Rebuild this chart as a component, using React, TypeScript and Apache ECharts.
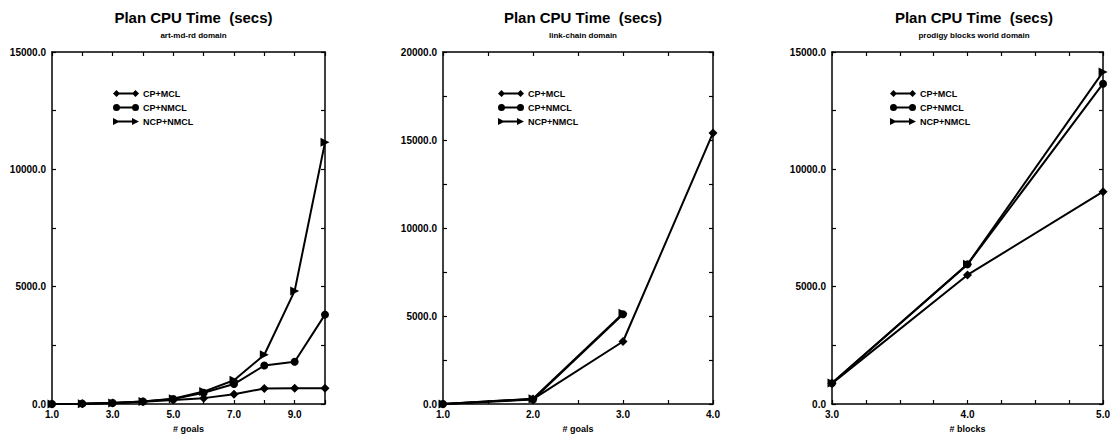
import React, { useEffect, useRef } from "react";
import * as echarts from "echarts";

const SERIES_NAMES = ["CP+MCL", "CP+NMCL", "NCP+NMCL"];
const TITLE = "Plan CPU Time  (secs)";
const SUBTITLES = ["art-md-rd domain", "link-chain domain", "prodigy blocks world domain"];
const X_NAMES = ["# goals", "# goals", "# blocks"];

// Panel 1: art-md-rd domain
const X1 = [1, 2, 3, 4, 5, 6, 7, 8, 9, 10];
const P1_CP_MCL = [0, 15, 40, 100, 170, 250, 420, 660, 670, 670];
const P1_CP_NMCL = [0, 15, 40, 110, 210, 480, 850, 1640, 1800, 3810];
const P1_NCP_NMCL = [0, 15, 40, 110, 220, 530, 1010, 2100, 4820, 11150];

// Panel 2: link-chain domain
const X2 = [1, 2, 3, 4];
const P2_CP_MCL = [0, 280, 3550, 15400];
const P2_CP_NMCL = [0, 250, 5100, null];
const P2_NCP_NMCL = [0, 300, 5150, null];

// Panel 3: prodigy blocks world domain
const X3 = [3, 4, 5];
const P3_CP_MCL = [880, 5500, 9050];
const P3_CP_NMCL = [880, 5950, 13650];
const P3_NCP_NMCL = [900, 5950, 14150];

const PANELS = [
  { xs: X1, ys: [P1_CP_MCL, P1_CP_NMCL, P1_NCP_NMCL], xmin: 1, xmax: 10, xint: 1, xlab: (v: number) => (Math.round(v) % 2 === 1 ? v.toFixed(1) : ""), ymax: 15000 },
  { xs: X2, ys: [P2_CP_MCL, P2_CP_NMCL, P2_NCP_NMCL], xmin: 1, xmax: 4, xint: 0.5, xlab: (v: number) => (Math.abs(v - Math.round(v)) < 1e-6 ? v.toFixed(1) : ""), ymax: 20000 },
  { xs: X3, ys: [P3_CP_MCL, P3_CP_NMCL, P3_NCP_NMCL], xmin: 3, xmax: 5, xint: 0.25, xlab: (v: number) => (Math.abs(v - Math.round(v)) < 1e-6 ? v.toFixed(1) : ""), ymax: 15000 },
];

const GRIDS = [
  { left: 52, top: 52, width: 273, height: 357 },
  { left: 443, top: 52, width: 270, height: 357 },
  { left: 832, top: 52, width: 274, height: 357 },
];
const LEGEND_LEFT = [108, 493, 885];

const SYMBOLS = ["diamond", "circle", "triangle"];
const SYMBOL_SIZES = [9, 8, 9];
const SYMBOL_ROT = [0, 0, -90];

const ICON_DIAMOND =
  "path://M0 3.5L3.5 0L7 3.5L3.5 7Z M3.5 2.6L22.5 2.6L22.5 4.4L3.5 4.4Z M19 3.5L22.5 0L26 3.5L22.5 7Z";
const ICON_CIRCLE =
  "path://M0 3.5A3.5 3.5 0 1 1 7 3.5A3.5 3.5 0 1 1 0 3.5Z M3.5 2.6L22.5 2.6L22.5 4.4L3.5 4.4Z M19 3.5A3.5 3.5 0 1 1 26 3.5A3.5 3.5 0 1 1 19 3.5Z";
const ICON_TRI =
  "path://M0 0L7 3.5L0 7Z M3.5 2.6L22.5 2.6L22.5 4.4L3.5 4.4Z M19 0L26 3.5L19 7Z";
const ICONS = [ICON_DIAMOND, ICON_CIRCLE, ICON_TRI];

const FONT = "Liberation Sans";

export default function App() {
  const ref = useRef<HTMLDivElement>(null);
  useEffect(() => {
    if (!ref.current) return;
    const chart = echarts.init(ref.current, null, { renderer: "svg" });
    const xAxes: any[] = [];
    const yAxes: any[] = [];
    const series: any[] = [];
    PANELS.forEach((p, gi) => {
      const tick = { show: true, inside: true, length: 4, lineStyle: { color: "#000", width: 1.2 } };
      const line = { show: true, onZero: false, lineStyle: { color: "#000", width: 1.5 } };
      xAxes.push({
        type: "value", gridIndex: gi, position: "bottom", min: p.xmin, max: p.xmax, interval: p.xint,
        axisLine: line, axisTick: tick, splitLine: { show: false },
        axisLabel: { formatter: p.xlab, color: "#000", fontSize: 10, fontWeight: "bold", margin: 5, fontFamily: FONT },
        name: X_NAMES[gi], nameLocation: "middle", nameGap: 20,
        nameTextStyle: { color: "#000", fontSize: 9, fontWeight: "bold", fontFamily: FONT },
      });
      xAxes.push({
        type: "value", gridIndex: gi, position: "top", min: p.xmin, max: p.xmax, interval: p.xint,
        axisLine: line, axisTick: tick, splitLine: { show: false }, axisLabel: { show: false },
      });
      yAxes.push({
        type: "value", gridIndex: gi, position: "left", min: 0, max: p.ymax, interval: 2500,
        axisLine: line, axisTick: tick, splitLine: { show: false },
        axisLabel: {
          formatter: (v: number) => (v % 5000 === 0 ? v.toFixed(1) : ""),
          color: "#000", fontSize: 10, fontWeight: "bold", margin: 6, fontFamily: FONT,
        },
      });
      yAxes.push({
        type: "value", gridIndex: gi, position: "right", min: 0, max: p.ymax, interval: 2500,
        axisLine: line, axisTick: tick, splitLine: { show: false }, axisLabel: { show: false },
      });
      p.ys.forEach((ys, si) => {
        series.push({
          type: "line",
          name: SERIES_NAMES[si],
          xAxisIndex: gi * 2,
          yAxisIndex: gi * 2,
          data: p.xs.map((x, i) => [x, ys[i]]).filter((d) => d[1] !== null),
          symbol: SYMBOLS[si],
          symbolSize: SYMBOL_SIZES[si],
          symbolRotate: SYMBOL_ROT[si],
          showAllSymbol: true,
          clip: false,
          lineStyle: { color: "#000", width: 2 },
          itemStyle: { color: "#000" },
          z: 3 + si,
        });
      });
    });
    chart.setOption({
      animation: false,
      backgroundColor: "#fff",
      textStyle: { fontFamily: FONT },
      title: GRIDS.map((g, gi) => ({
        text: TITLE,
        subtext: SUBTITLES[gi],
        left: g.left + g.width / 2,
        textAlign: "center",
        top: 5,
        itemGap: 6,
        textStyle: { color: "#000", fontSize: 15, fontWeight: "bold", fontFamily: FONT },
        subtextStyle: { color: "#000", fontSize: 8, fontWeight: "bold", fontFamily: FONT },
      })),
      legend: LEGEND_LEFT.map((l) => ({
        left: l,
        top: 84,
        orient: "vertical",
        itemWidth: 26,
        itemHeight: 7,
        itemGap: 5,
        selectedMode: false,
        data: SERIES_NAMES.map((n, i) => ({ name: n, icon: ICONS[i] })),
        itemStyle: { color: "#000" },
        textStyle: { color: "#000", fontSize: 9, fontWeight: "bold", fontFamily: FONT, padding: [0, 0, 0, -1] },
      })),
      grid: GRIDS.map((g) => ({ ...g, containLabel: false })),
      xAxis: xAxes,
      yAxis: yAxes,
      series,
    });
    return () => chart.dispose();
  }, []);
  return (
    <div
      ref={ref}
      style={{ position: "fixed", left: 0, top: 0, width: 1113, height: 438, background: "#fff" }}
    />
  );
}
